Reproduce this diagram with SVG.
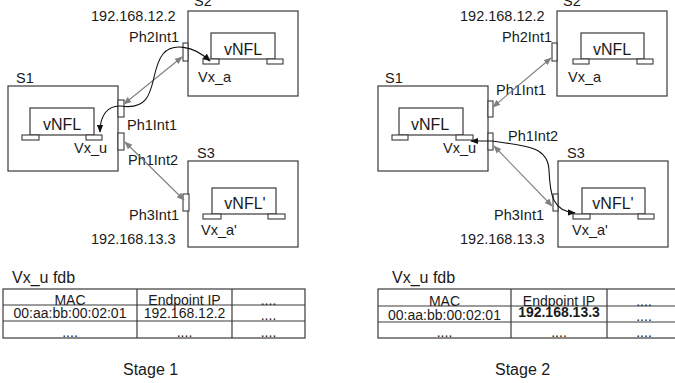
<svg xmlns="http://www.w3.org/2000/svg" width="675" height="383" viewBox="0 0 675 383">
  <style>
    text { font-family: "Liberation Sans", Arial, sans-serif; fill: #1a1a1a; }
    .lbl { font-size: 14.5px; }
    .vnf { font-size: 16px; text-anchor: middle; }
    .cell { font-size: 14px; text-anchor: middle; }
    .title { font-size: 16px; }
    .box { fill: #ffffff; stroke: #3a3a3a; stroke-width: 1.2; }
    .inner { fill: none; stroke: #3a3a3a; stroke-width: 1.2; }
    .port { fill: #ffffff; stroke: #3a3a3a; stroke-width: 1.1; }
    .grid { fill: none; stroke: #3a3a3a; stroke-width: 1.2; }
    .link { fill: none; stroke: #808080; stroke-width: 1.1; marker-start: url(#ag); marker-end: url(#ag); }
    .flow { fill: none; stroke: #111111; stroke-width: 1.1; marker-start: url(#ab); marker-end: url(#ab); }
    .flow1 { fill: none; stroke: #111111; stroke-width: 1.1; marker-end: url(#ab); }
  </style>
  <defs>
    <marker id="ag" viewBox="0 0 10 10" refX="9" refY="5" markerWidth="8" markerHeight="8" markerUnits="userSpaceOnUse" orient="auto-start-reverse">
      <path d="M0,1 L10,5 L0,9 Z" fill="#808080"/>
    </marker>
    <marker id="ab" viewBox="0 0 10 10" refX="9" refY="5" markerWidth="8" markerHeight="8" markerUnits="userSpaceOnUse" orient="auto-start-reverse">
      <path d="M0,1 L10,5 L0,9 Z" fill="#111111"/>
    </marker>
  </defs>

  <!-- ===== Stage 1 ===== -->
  <g id="s2-stage1">
    <rect class="box" x="188" y="11" width="110" height="85"/>
    <text class="lbl" x="194" y="6">S2</text>
    <rect class="inner" x="211" y="33" width="64" height="26"/>
    <rect class="port" x="203" y="59" width="16" height="5"/>
    <rect class="port" x="267" y="59" width="16" height="5"/>
    <text class="vnf" x="243" y="55">vNFL</text>
    <text class="lbl" x="198" y="82">Vx_a</text>
    <rect class="port" x="183" y="43" width="5" height="18"/>
    <text class="lbl" x="129" y="42">Ph2Int1</text>
    <text class="lbl" x="91" y="21">192.168.12.2</text>
  </g>

  <g id="s1-stage1">
    <rect class="box" x="8" y="86" width="110" height="85"/>
    <text class="lbl" x="16" y="83">S1</text>
    <rect class="inner" x="30" y="108" width="64" height="27"/>
    <rect class="port" x="22" y="135" width="17" height="5"/>
    <rect class="port" x="86" y="135" width="16" height="5"/>
    <text class="vnf" x="62" y="130">vNFL</text>
    <text class="lbl" x="74" y="153">Vx_u</text>
    <rect class="port" x="118" y="100" width="6" height="17"/>
    <text class="lbl" x="127" y="130">Ph1Int1</text>
    <rect class="port" x="118" y="133" width="6" height="17"/>
    <text class="lbl" x="128" y="165">Ph1Int2</text>
  </g>

  <g id="s3-stage1">
    <rect class="box" x="188" y="161" width="110" height="86"/>
    <text class="lbl" x="197" y="158">S3</text>
    <rect class="inner" x="212" y="188" width="64" height="26"/>
    <rect class="port" x="203" y="214" width="18" height="5"/>
    <rect class="port" x="268" y="214" width="17" height="5"/>
    <text class="vnf" x="245" y="209">vNFL'</text>
    <text class="lbl" x="201" y="235">Vx_a'</text>
    <rect class="port" x="183" y="194" width="6" height="17"/>
    <text class="lbl" x="129" y="220">Ph3Int1</text>
    <text class="lbl" x="91" y="244">192.168.13.3</text>
  </g>

  <!-- ===== Stage 2 ===== -->
  <g id="s2-stage2">
    <rect class="box" x="557" y="11" width="110" height="85"/>
    <text class="lbl" x="563" y="6">S2</text>
    <rect class="inner" x="581" y="33" width="63" height="26"/>
    <rect class="port" x="573" y="59" width="16" height="5"/>
    <rect class="port" x="637" y="59" width="16" height="5"/>
    <text class="vnf" x="612" y="55">vNFL</text>
    <text class="lbl" x="568" y="82">Vx_a</text>
    <rect class="port" x="552" y="43" width="5" height="18"/>
    <text class="lbl" x="502" y="42">Ph2Int1</text>
    <text class="lbl" x="460" y="21">192.168.12.2</text>
  </g>

  <g id="s1-stage2">
    <rect class="box" x="378" y="86" width="110" height="85"/>
    <text class="lbl" x="385" y="83">S1</text>
    <rect class="inner" x="399" y="108" width="64" height="27"/>
    <rect class="port" x="392" y="135" width="16" height="5"/>
    <rect class="port" x="456" y="135" width="17" height="5"/>
    <text class="vnf" x="430" y="130">vNFL</text>
    <text class="lbl" x="443" y="153">Vx_u</text>
    <rect class="port" x="488" y="101" width="5" height="16"/>
    <text class="lbl" x="496" y="95">Ph1Int1</text>
    <rect class="port" x="488" y="133" width="5" height="17"/>
    <text class="lbl" x="508" y="141">Ph1Int2</text>
  </g>

  <g id="s3-stage2">
    <rect class="box" x="558" y="161" width="110" height="86"/>
    <text class="lbl" x="567" y="158">S3</text>
    <rect class="inner" x="582" y="188" width="63" height="26"/>
    <rect class="port" x="573" y="214" width="17" height="5"/>
    <rect class="port" x="638" y="214" width="16" height="5"/>
    <text class="vnf" x="613" y="209">vNFL'</text>
    <text class="lbl" x="572" y="235">Vx_a'</text>
    <rect class="port" x="553" y="194" width="5" height="17"/>
    <text class="lbl" x="494" y="220">Ph3Int1</text>
    <text class="lbl" x="460" y="244">192.168.13.3</text>
  </g>

  <!-- ===== Connectors ===== -->
  <g id="connectors">
    <!-- stage 1 -->
    <line class="link" x1="124" y1="104" x2="182" y2="57"/>
    <line class="link" x1="125" y1="142" x2="184" y2="200"/>
    <path class="flow" d="M100,132 C100,115 108,105 121,106 C160,112 148,72 163,54 C172,43 193,45 210,61"/>
    <!-- stage 2 -->
    <line class="link" x1="493" y1="107" x2="551" y2="58"/>
    <line class="link" x1="494" y1="146" x2="552" y2="206"/>
    <path class="flow" d="M471,141 L492,141 C530,146 548,148 549,170 C550,196 553,211 575,213"/>
  </g>

  <!-- ===== fdb tables ===== -->
  <g id="fdb-stage1">
    <text class="title" x="12" y="283">Vx_u fdb</text>
    <rect class="grid" x="3" y="289" width="302" height="49"/>
    <line class="grid" x1="3" y1="305" x2="305" y2="305"/>
    <line class="grid" x1="3" y1="321" x2="305" y2="321"/>
    <line class="grid" x1="137" y1="289" x2="137" y2="338"/>
    <line class="grid" x1="232" y1="289" x2="232" y2="338"/>
    <text class="cell" x="70" y="304.5">MAC</text>
    <text class="cell" x="184.5" y="304.5">Endpoint IP</text>
    <text class="cell" x="268.5" y="304.5">....</text>
    <text class="cell" x="70" y="318">00:aa:bb:00:02:01</text>
    <text class="cell" x="184.5" y="318">192.168.12.2</text>
    <text class="cell" x="268.5" y="320">....</text>
    <text class="cell" x="70" y="337">....</text>
    <text class="cell" x="184.5" y="337">....</text>
    <text class="cell" x="268.5" y="337">....</text>
    <text class="title" x="123" y="375">Stage 1</text>
  </g>

  <g id="fdb-stage2">
    <text class="title" x="392" y="283">Vx_u fdb</text>
    <rect class="grid" x="378" y="289" width="310" height="49"/>
    <line class="grid" x1="378" y1="306" x2="688" y2="306"/>
    <line class="grid" x1="378" y1="322" x2="688" y2="322"/>
    <line class="grid" x1="511" y1="289" x2="511" y2="338"/>
    <line class="grid" x1="607" y1="289" x2="607" y2="338"/>
    <text class="cell" x="444.5" y="305.5">MAC</text>
    <text class="cell" x="559" y="305.5">Endpoint IP</text>
    <text class="cell" x="644" y="305.5">....</text>
    <text class="cell" x="444.5" y="320">00:aa:bb:00:02:01</text>
    <text class="cell" x="559" y="317" font-weight="bold">192.168.13.3</text>
    <text class="cell" x="644" y="321">....</text>
    <text class="cell" x="444.5" y="337">....</text>
    <text class="cell" x="559" y="337">....</text>
    <text class="cell" x="644" y="337">....</text>
    <text class="title" x="495" y="375">Stage 2</text>
  </g>
</svg>
